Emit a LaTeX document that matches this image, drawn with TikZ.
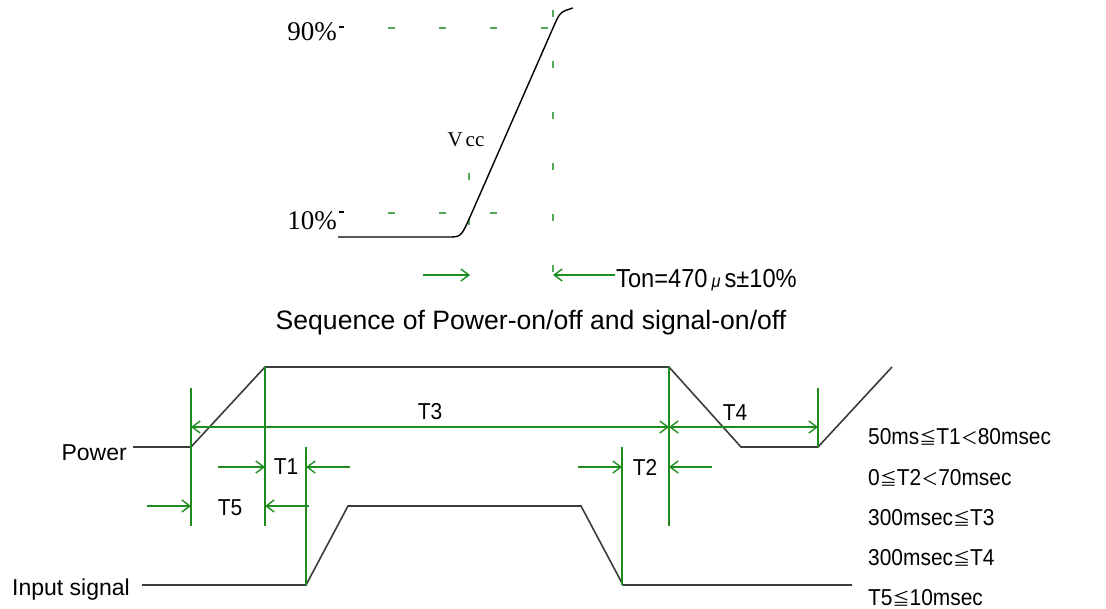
\documentclass[tikz,border=0pt]{standalone}
\usepackage{fontspec}
\setmainfont{Liberation Sans}
\newfontfamily\narrowsans[FakeStretch=0.91]{Liberation Sans}
\newfontfamily\oldserif{Liberation Serif}
\newfontfamily\cjk{Noto Sans CJK SC}
\usetikzlibrary{arrows.meta}

\definecolor{dimgreen}{RGB}{30,140,30}
\definecolor{wavegrey}{RGB}{60,60,60}

% small relation signs as in the data sheet
\newcommand{\lteqsign}{{\cjk\fontsize{17}{17}\selectfont ≦}}
\newcommand{\ltwide}{{\cjk\fontsize{17}{17}\selectfont ＜}}

\tikzset{
	wave/.style={line width=1.6pt, wavegrey},
	dimline/.style={line width=1.4pt, dimgreen},
	barb/.style={-{Straight Barb[length=8pt,width=12pt]}},
	twobarb/.style={{Straight Barb[length=8pt,width=12pt]}-{Straight Barb[length=8pt,width=12pt]}},
	level/.style={line width=1.6pt, dimgreen!75, dash pattern=on 7pt off 44pt},
	condtext/.style={anchor=west, inner sep=0pt, font=\narrowsans\fontsize{23}{23}\selectfont},
	tlabel/.style={inner sep=0pt, font=\narrowsans\fontsize{23}{23}\selectfont},
}

\begin{document}
\begin{tikzpicture}[x=1pt, y=-1pt]
		\useasboundingbox (0,0) rectangle (1106,609);

		% rise time of Vcc
		\draw [line width=1.3pt] (339,27) -- (344,27);
		\draw [line width=1.3pt] (339,212) -- (344,212);
		\draw [level] (388,28) -- (552,28);
		\draw [level] (388,213) -- (500,213);
		\draw [level, dash pattern=on 7pt off 38pt] (469,173) -- (469,226);
		\draw [level] (553,10) -- (553,272);

		\draw [line width=1.4pt] (338,237) -- (448,237) .. controls (461,237) .. (470,217)
			-- (553,28) .. controls (560,12) .. (573,8);

		\node [font=\oldserif\fontsize{27}{27}\selectfont, inner sep=0pt] (pct90) at (312,32) {90\%};
		\node [font=\oldserif\fontsize{27}{27}\selectfont, inner sep=0pt] (pct10) at (312,221) {10\%};
		\node [font=\oldserif\fontsize{21}{21}\selectfont, inner sep=0pt] (vcc) at (466,140) {V\kern3pt cc};

		\coordinate (tonL) at (423,275);
		\coordinate (tonLtip) at (470,275);
		\coordinate (tonR) at (615,275);
		\coordinate (tonRtip) at (553,275);
		\draw [dimline, barb] (tonL) -- (tonLtip);
		\draw [dimline, barb] (tonR) -- (tonRtip);
		\node [anchor=west, inner sep=0pt, font=\narrowsans\fontsize{26}{26}\selectfont] (ton) at (616,280) {Ton=470\kern4pt{\fontsize{18}{18}\selectfont\itshape μ}\kern4pt s±10\%};

		\node [inner sep=0pt, font=\fontsize{26.6}{27}\selectfont] (title) at (531,323) {Sequence of Power-on/off and signal-on/off};

		% waveforms
		\coordinate (pwrStart) at (191,447);
		\coordinate (pwrHigh) at (265,367);
		\coordinate (pwrFall) at (669,367);
		\coordinate (pwrLow) at (741,447);
		\coordinate (pwrEnd) at (818,447);
		\coordinate (sigRise) at (306,585);
		\coordinate (sigHigh) at (348,506);
		\coordinate (sigFall) at (581,506);
		\coordinate (sigLow) at (623,585);

		\draw [wave] (133,447) -- (pwrStart) -- (pwrHigh) -- (pwrFall) -- (pwrLow) -- (pwrEnd) -- (892,367);
		\draw [wave] (142,585) -- (sigRise) -- (sigHigh) -- (sigFall) -- (sigLow) -- (852,585);

		\node [anchor=east, inner sep=0pt, font=\fontsize{23}{23}\selectfont] (power) at (127,453) {Power};
		\node [anchor=east, inner sep=0pt, font=\fontsize{23}{23}\selectfont] (input) at (130,590) {Input signal};

		% timing marks
		\draw [dimline] (191,388) -- (191,526);
		\draw [dimline] (pwrHigh) -- (265,526);
		\draw [dimline] (306,447) -- (sigRise);
		\draw [dimline] (622,447) -- (622,585);
		\draw [dimline] (pwrFall) -- (669,526);
		\draw [dimline] (818,388) -- (pwrEnd);

		\draw [dimline, twobarb] (191,427) -- (669,427);
		\draw [dimline, twobarb] (669,427) -- (818,427);
		\node [tlabel] (t3) at (430,412) {T3};
		\node [tlabel] (t4) at (735,413) {T4};

		\draw [dimline, barb] (218,467) -- (265,467);
		\draw [dimline, barb] (350,467) -- (306,467);
		\node [tlabel] (t1) at (286,467) {T1};

		\draw [dimline, barb] (147,506) -- (191,506);
		\draw [dimline, barb] (309,506) -- (265,506);
		\node [tlabel] (t5) at (230,508) {T5};

		\draw [dimline, barb] (578,467) -- (622,467);
		\draw [dimline, barb] (712,467) -- (669,467);
		\node [tlabel] (t2) at (645,467) {T2};

		% limits
		\node [condtext] (lim1) at (868,437) {50ms\lteqsign T1\ltwide 80msec};
		\node [condtext] (lim2) at (868,478) {0\lteqsign T2\ltwide 70msec};
		\node [condtext] (lim3) at (868,518) {300msec\lteqsign T3};
		\node [condtext] (lim4) at (868,558) {300msec\lteqsign T4};
		\node [condtext] (lim5) at (868,598) {T5\lteqsign 10msec};

		\end{tikzpicture}
\end{document}
